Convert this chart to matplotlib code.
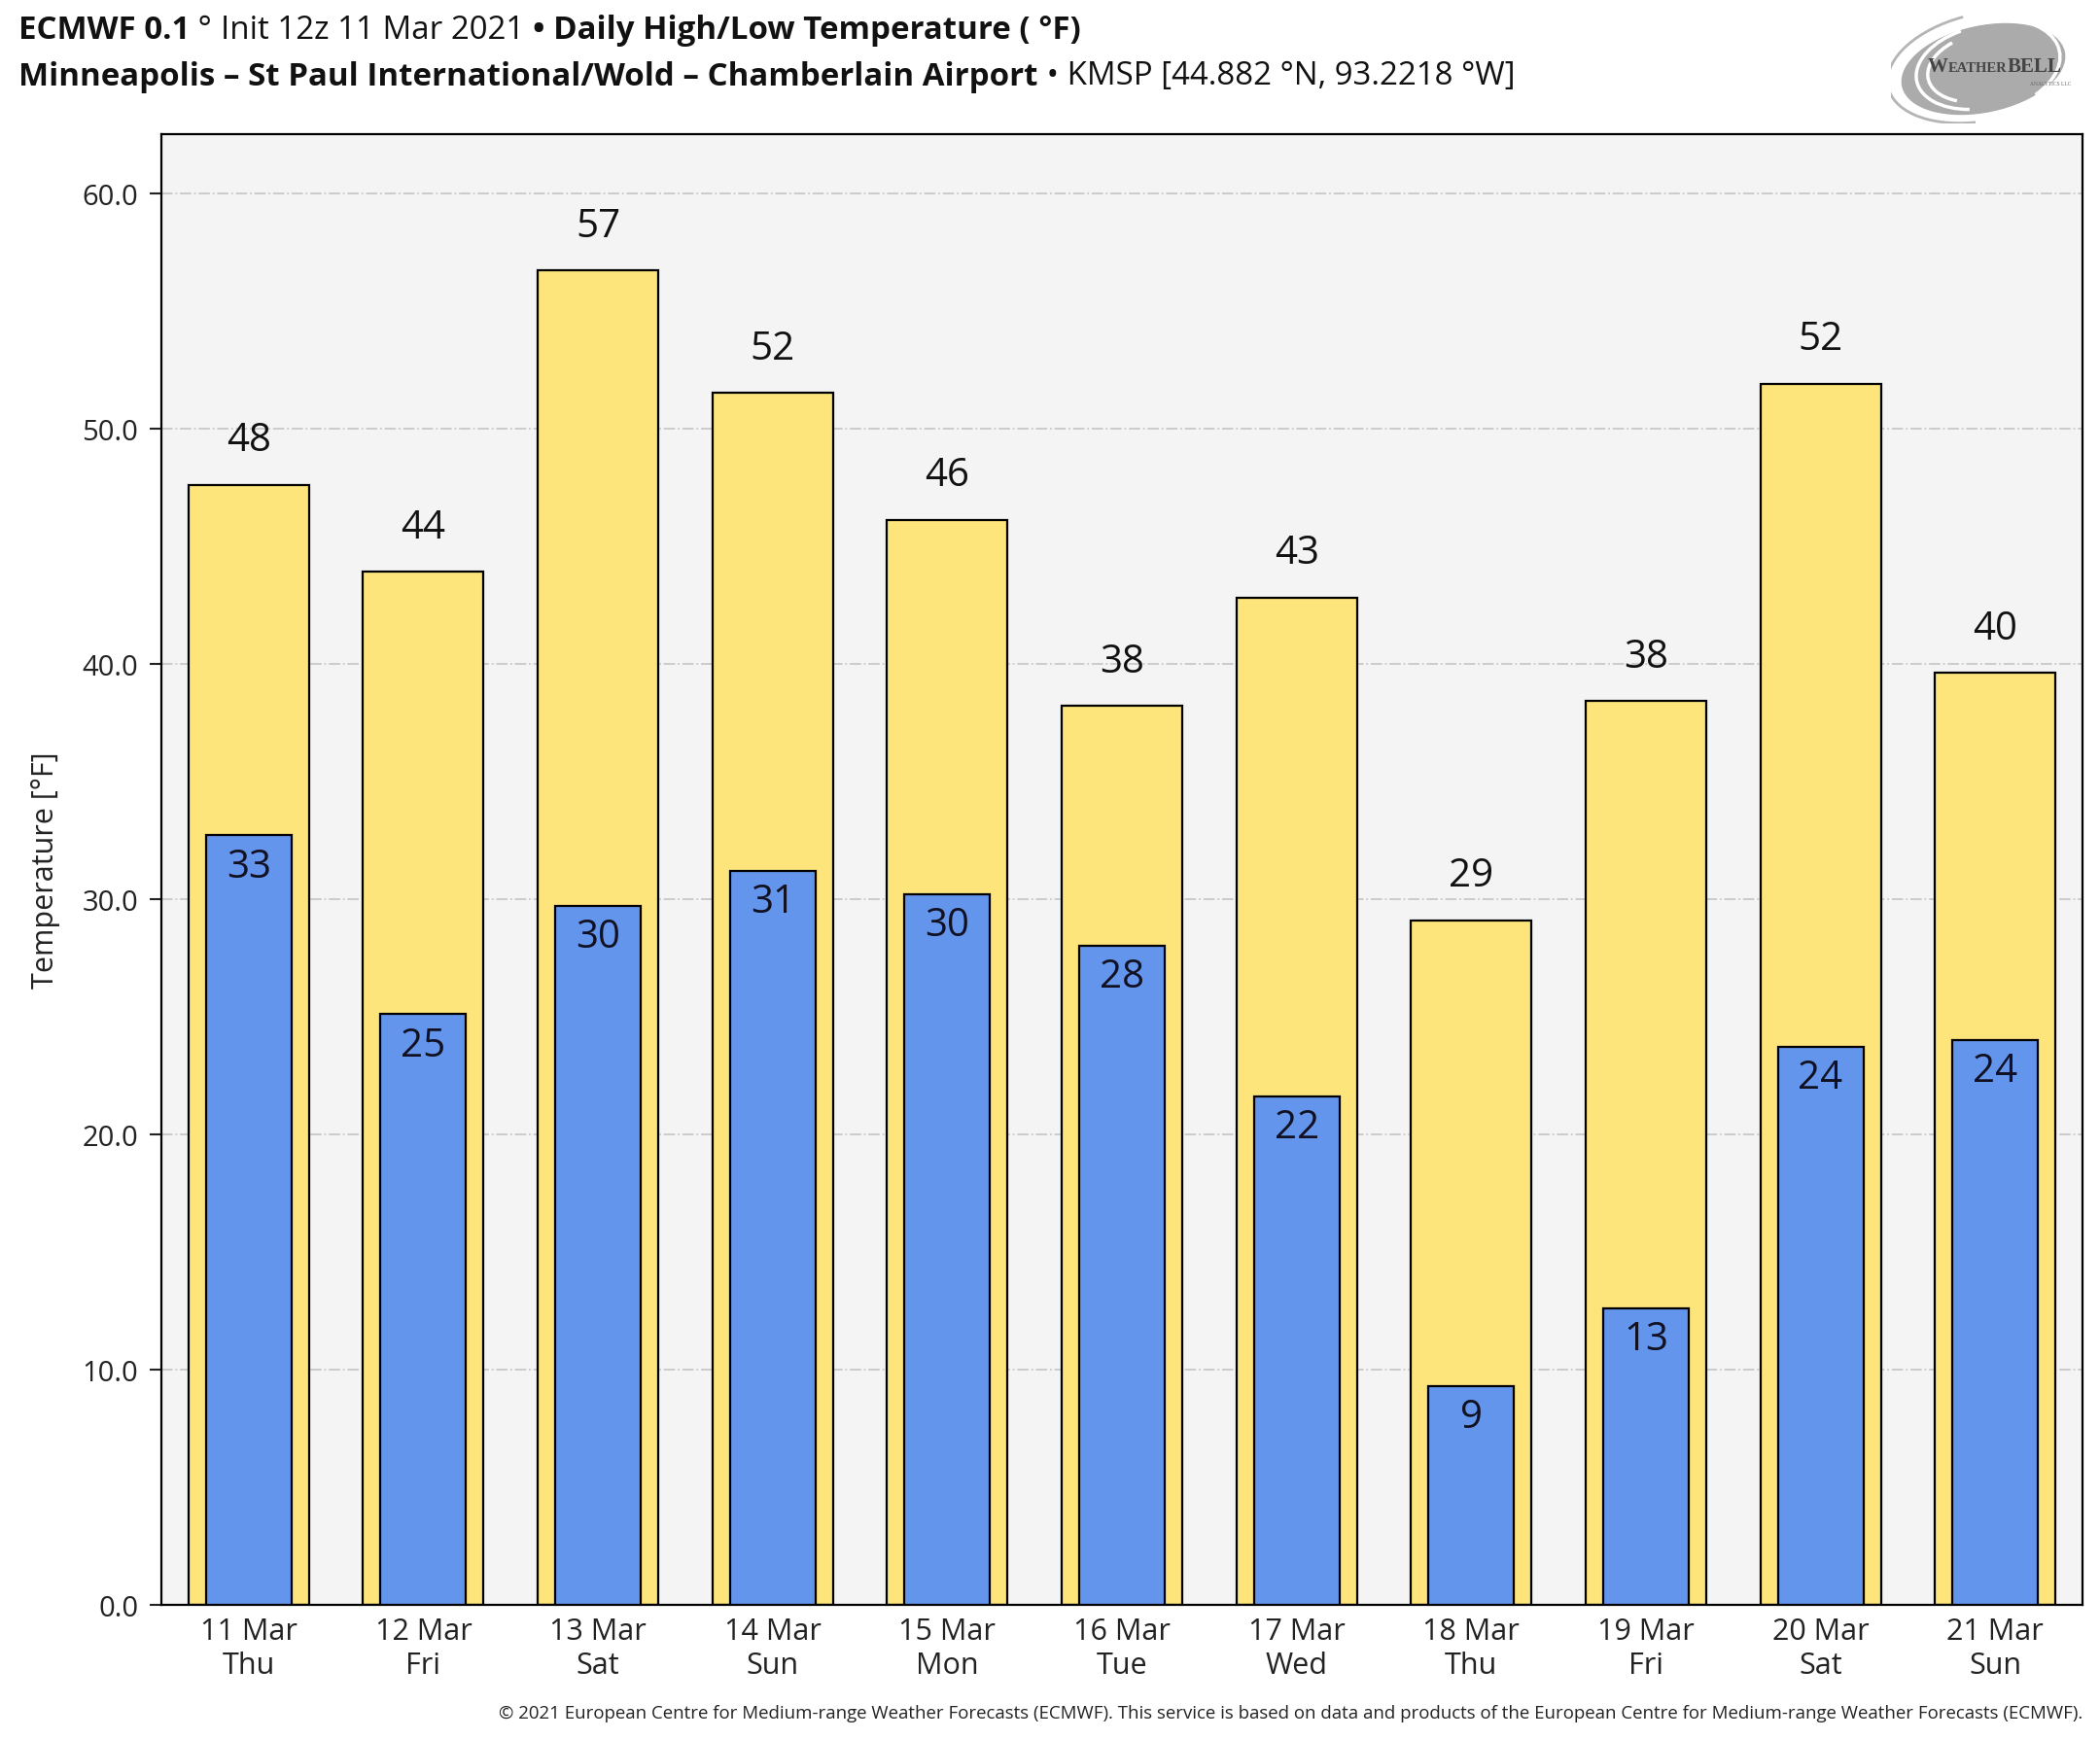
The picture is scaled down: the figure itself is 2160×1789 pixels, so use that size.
import numpy as np
import matplotlib
matplotlib.use('Agg')
import matplotlib.pyplot as plt
from matplotlib.patches import Ellipse, Arc

plt.rcParams['font.family'] = ['Open Sans', 'DejaVu Sans']

dates = ['11 Mar', '12 Mar', '13 Mar', '14 Mar', '15 Mar', '16 Mar',
         '17 Mar', '18 Mar', '19 Mar', '20 Mar', '21 Mar']
days = ['Thu', 'Fri', 'Sat', 'Sun', 'Mon', 'Tue', 'Wed', 'Thu', 'Fri', 'Sat', 'Sun']
highs = [47.6, 43.9, 56.7, 51.5, 46.1, 38.2, 42.8, 29.1, 38.4, 51.9, 39.6]
lows = [32.7, 25.1, 29.7, 31.2, 30.2, 28.0, 21.6, 9.3, 12.6, 23.7, 24.0]

W, H = 2160, 1790
fig = plt.figure(figsize=(W / 100, H / 100), dpi=100)
ax = fig.add_axes([166 / W, 1 - 1652 / H, (2142 - 166) / W, (1652 - 139) / H])
ax.set_facecolor('#f4f4f4')

x = np.arange(len(dates))
ax.bar(x, highs, width=0.69, color='#fde47b', edgecolor='black', linewidth=1.6, zorder=2)
ax.bar(x, lows, width=0.49, color='#6495ed', edgecolor='black', linewidth=1.6, zorder=3)

for xi, h in zip(x, highs):
    ax.annotate(f'{h:.0f}', (xi, h), xytext=(0, 33), textcoords='offset points',
                ha='center', va='center', fontsize=29, color='#111111', zorder=4)
for xi, l in zip(x, lows):
    ax.annotate(f'{l:.0f}', (xi, l), xytext=(0, -23), textcoords='offset points',
                ha='center', va='center', fontsize=29, color='#111122', zorder=4)

ax.set_xlim(-0.5, 10.5)
ax.set_ylim(0, 62.5)
ax.set_yticks(np.arange(0, 61, 10))
ax.set_yticklabels([f'{v:.1f}' for v in np.arange(0, 61, 10)])
ax.set_xticks(x)
ax.set_xticklabels([f'{d}\n{w}' for d, w in zip(dates, days)])
ax.tick_params(axis='y', labelsize=21, length=9, width=1.5, pad=8, colors='#222222')
ax.tick_params(axis='x', labelsize=22, length=0, pad=9, colors='#222222')
ax.set_ylabel('Temperature [°F]', fontsize=22, color='#222222', labelpad=16)
ax.grid(axis='y', linestyle='-.', color='#c8c8c8', linewidth=1.3, zorder=0)
ax.set_axisbelow(True)
for sp in ax.spines.values():
    sp.set_linewidth(1.6)

# title lines built from bold and regular pieces
renderer = fig.canvas.get_renderer()


def fig_parts(x0, y0, parts, size):
    xpos = x0
    for s, bold in parts:
        t = fig.text(xpos / W, 1 - y0 / H, s, fontsize=size,
                     fontweight='bold' if bold else 'normal', va='center', ha='left',
                     color='#111111')
        xpos += t.get_window_extent(renderer=renderer).width


fig_parts(19, 32, [('ECMWF 0.1', True), (' ° ', False), ('Init 12z 11 Mar 2021 ', False),
                   ('• Daily High/Low Temperature ( °F)', True)], 23.8)
fig_parts(19, 79, [('Minneapolis – St Paul International/Wold – Chamberlain Airport', True),
                   (' • KMSP [44.882 °N, 93.2218 °W]', False)], 23.8)

fig.text(2142 / W, 1 - 1763 / H,
         '© 2021 European Centre for Medium-range Weather Forecasts (ECMWF). '
         'This service is based on data and products of the European Centre for '
         'Medium-range Weather Forecasts (ECMWF).',
         fontsize=13.4, ha='right', va='center', color='#222222')

# logo
lax = fig.add_axes([1945 / W, 1 - 128 / H, 210 / W, 118 / H])
lax.set_xlim(0, 210)
lax.set_ylim(118, 0)
lax.axis('off')
lax.add_patch(Ellipse((95, 62), 170, 88, angle=-12, color='#ababab'))
for r, a1, a2 in [(70, 120, 250), (58, 140, 230), (92, 150, 240), (80, 300, 40)]:
    lax.add_patch(Arc((95, 60), 2 * r, 1.2 * r, angle=-12, theta1=a1, theta2=a2,
                      color='white', linewidth=2.5))
lax.add_patch(Arc((95, 60), 200, 110, angle=-12, theta1=110, theta2=260,
                  color='#b5b5b5', linewidth=2))
xpos = 1983
for s, fs in [('W', 15), ('EATHER', 10.5), ('BELL', 15)]:
    t = fig.text(xpos / W, 1 - 74 / H, s, fontsize=fs, family='Liberation Serif',
                 fontweight='bold', color='#444444', va='baseline')
    xpos += t.get_window_extent(renderer=renderer).width
fig.text(2130 / W, 1 - 88 / H, 'ANALYTICS LLC', fontsize=4, family='Liberation Serif',
         color='#666666', ha='right', va='baseline')

fig.savefig('out.png', dpi=100, facecolor='white')
